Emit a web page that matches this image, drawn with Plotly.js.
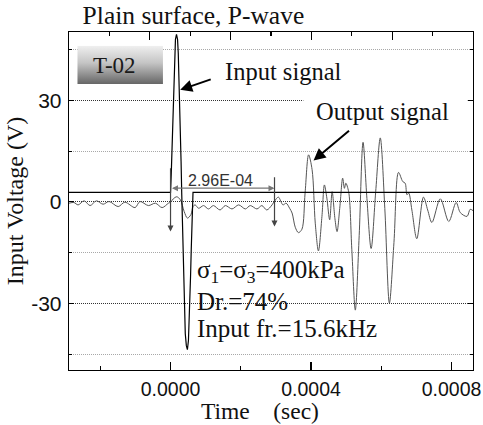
<!DOCTYPE html>
<html>
<head>
<meta charset="utf-8">
<script src="https://cdn.plot.ly/plotly-3.0.1.min.js"></script>
<style>html,body{margin:0;padding:0;background:#fff;}#chart{width:483px;height:425px;}</style>
</head>
<body>
<div id="chart"></div>
<script>
// ---- data (time in seconds, voltage in volts) ----
var inputTime = [-0.000289, 0, 0.000002, 0.000004, 0.000006, 0.000008, 0.000010, 0.000012, 0.000014, 0.000017,
                 0.000020, 0.000022, 0.000024, 0.000026, 0.000028, 0.000030, 0.000032, 0.000034, 0.000036, 0.000038,
                 0.000040, 0.000042, 0.000045, 0.000048, 0.000051, 0.000053, 0.000055, 0.000057, 0.000059, 0.000061,
                 0.000064, 0.000861];
var inputVolt = [2.8, 2.8, 8, 15, 24, 32, 39.5, 45, 48, 49.5,
                 48, 44, 37.5, 30, 21, 12, 2, -8, -18, -27,
                 -34, -39, -42.5, -43.7, -41, -36, -29.5, -22, -14, -6,
                 2.8, 2.8];

var outputTimeUs = [-289, -275, -263, -246, -229, -211, -192, -175, -149, -130, -101, -87, -63, -43, -24, -6,
                    0, 8, 18, 28, 39, 48, 58, 64, 70, 80, 94, 108, 122, 141, 156, 175, 194, 213, 227, 246, 260, 274, 289,
                    296, 307, 320, 329, 339, 346, 355, 364, 374, 383, 393, 403, 412, 421, 431, 438, 445, 453, 460, 468, 474,
                    482, 490, 495, 499, 507, 516, 526, 537, 548, 559, 571, 584, 597, 610, 623, 636, 649, 661, 668, 673, 678,
                    687, 701, 720, 732, 744, 768, 792, 813, 825, 844, 853, 861];
var outputVolt = [-0.4, -0.2, -0.9, 0.3, -1.1, 0.3, -0.7, 0.1, -1.4, -0.1, -1.7, 0.1, -1.1, -0.4, -1.7, -0.4,
                  -0.1, 0.9, 1.5, 0.6, -2.9, -4.8, -3.8, -1.4, -0.9, -1.9, -1.1, -2.1, -1.1, -2.4, -1.1, -2.1, -0.9, -2.1, -1.1, -2.1, -1.1, -2.4, -0.9,
                  0.2, 1.4, -0.9, -0.4, -1.9, -3.3, -7.5, -9.1, -8.1, 2.6, 13.9, 9.5, -6.3, -14.5, -4.3, 5.0, 1.1, -5.3, 3.0, -5.0, -8.8,
                  -1.5, 7.0, 4.0, 5.5, 3.0, -14, -32.0, -10, 17.6, 1, -13.8, 3, 18.9, -2, -29.9, -12, 8.7, 6.0, 5.5, 2.1, 2.6,
                  -2.4, -10.9, 1.4, -2.4, -6.1, 0.9, -5.8, -0.2, -3.2, -4.3, -2.2, -2.6];
var outputTime = outputTimeUs.map(function (u) { return u * 1e-6; });

var delay = 2.96e-4;              // measured travel time
var delayLabel = "2.96E-04";
var xTickVals = [0, 0.0004, 0.0008];
var xTickText = ["0.0000", "0.0004", "0.0008"];
var yTickVals = [-30, 0, 30];
var yTickText = ["-30", "0", "30"];

var serif = "Liberation Serif, Times New Roman, serif";
var sans = "Liberation Sans, Arial, sans-serif";

var traces = [
  {x: outputTime, y: outputVolt, type: "scatter", mode: "lines", name: "Output signal",
   line: {color: "#555555", width: 1, shape: "spline", smoothing: 0.9}, hoverinfo: "skip"},
  {x: inputTime, y: inputVolt, type: "scatter", mode: "lines", name: "Input signal",
   line: {color: "#000000", width: 1.2, shape: "linear"}, hoverinfo: "skip"},
  {x: [-1, 4], y: [null, null], xaxis: "x2", yaxis: "y", type: "scatter", mode: "lines", showlegend: false, hoverinfo: "skip"}
];

var gradSvg = "<svg xmlns='http://www.w3.org/2000/svg' width='86' height='38'><defs><linearGradient id='g' x1='0' y1='0' x2='0' y2='1'>" +
  "<stop offset='0' stop-color='#f0f0f0'/><stop offset='0.45' stop-color='#c4c4c4'/><stop offset='1' stop-color='#666666'/>" +
  "</linearGradient></defs><rect width='86' height='38' fill='url(#g)'/></svg>";

var layout = {
  width: 483, height: 425,
  margin: {l: 69, r: 10, t: 32, b: 55},
  paper_bgcolor: "#fff", plot_bgcolor: "#fff",
  showlegend: false,
  title: {text: "Plain surface, P-wave", font: {family: serif, size: 25.5, color: "#111"},
          xref: "paper", x: 0.308, xanchor: "center", yref: "container", y: 0.965, yanchor: "middle"},
  xaxis: {range: [-0.000289, 0.000861], tickvals: xTickVals, ticktext: xTickText,
          ticks: "inside", ticklen: 8, tickwidth: 1.2, tickcolor: "#000",
          minor: {dtick: 0.0002, tick0: 0, ticks: "inside", ticklen: 4, tickwidth: 1.2, tickcolor: "#000", showgrid: false},
          showline: true, linecolor: "#000", linewidth: 1.3, mirror: false, showgrid: false, zeroline: false,
          tickfont: {family: sans, size: 19.5, color: "#111"}, ticklabelstandoff: 1},
  xaxis2: {overlaying: "x", side: "top", anchor: "y", range: [-1, 4], dtick: 1, tick0: 0,
           ticks: "inside", ticklen: 8, tickwidth: 1.2, tickcolor: "#000",
           minor: {dtick: 0.5, tick0: 0, ticks: "inside", ticklen: 4, tickwidth: 1.2, tickcolor: "#000", showgrid: false},
           showline: true, linecolor: "#000", linewidth: 1.3, showgrid: false, zeroline: false, showticklabels: false},
  yaxis: {range: [-49.7, 50.2], tickvals: yTickVals, ticktext: yTickText,
          ticks: "inside", ticklen: 5, tickwidth: 1.2, tickcolor: "#000",
          minor: {dtick: 15, tick0: 0, ticks: "inside", ticklen: 3, tickwidth: 1.2, tickcolor: "#000",
                  showgrid: true, gridcolor: "#a8a8a8", gridwidth: 1, griddash: "1px,1px"},
          showgrid: true, gridcolor: "#333", gridwidth: 1, griddash: "1px,1px",
          showline: true, linecolor: "#000", linewidth: 1.3, mirror: "ticks", zeroline: false,
          tickfont: {family: sans, size: 21, color: "#111"}, ticklabelstandoff: 2,
          title: {text: "Input Voltage (V)", font: {family: serif, size: 24, color: "#111"}, standoff: 0}},
  images: [{source: "data:image/svg+xml;utf8," + encodeURIComponent(gradSvg), xref: "paper", yref: "paper",
            x: 0.0205, y: 0.9594, sizex: 0.2121, sizey: 0.1134, xanchor: "left", yanchor: "top",
            sizing: "stretch", layer: "above"}],
  shapes: [
    {type: "line", xref: "x", yref: "y", x0: 0.000378, x1: 0.000846, y0: 30, y1: 30,
     line: {color: "#fff", width: 3}, layer: "above"}
  ],
  annotations: [
    {text: "Time\u00a0\u00a0\u00a0\u00a0(sec)", xref: "paper", yref: "paper", x: 0.4735, y: -0.1199, showarrow: false,
     font: {family: serif, size: 23.5, color: "#111"}, xanchor: "center", yanchor: "middle"},
    {text: "T-02", xref: "paper", yref: "paper", x: 0.1123, y: 0.9006, showarrow: false,
     font: {family: serif, size: 23, color: "#1a1a1a"}, xanchor: "center", yanchor: "middle"},
    {text: "Input signal", xref: "paper", yref: "paper", x: 0.5312, y: 0.8833, showarrow: false,
     font: {family: serif, size: 24.5, color: "#111"}, xanchor: "center", yanchor: "middle"},
    {text: "", xref: "x", yref: "y", x: 2.76e-5, y: 33.1, ax: 32, ay: -11, showarrow: true,
     arrowhead: 2, arrowsize: 1.2, arrowwidth: 2, arrowcolor: "#000", standoff: 0},
    {text: "Output signal", xref: "paper", yref: "paper", x: 0.7767, y: 0.7651, showarrow: false,
     font: {family: serif, size: 24.5, color: "#111"}, xanchor: "center", yanchor: "middle"},
    {text: "", xref: "x", yref: "y", x: 4.07e-4, y: 12.2, ax: 37, ay: -31, showarrow: true,
     arrowhead: 2, arrowsize: 1.2, arrowwidth: 2, arrowcolor: "#000", standoff: 0},
    {text: "", xref: "x", yref: "y", x: delay, y: 4.05, axref: "x", ayref: "y", ax: 0, ay: 4.05, showarrow: true,
     arrowhead: 2, arrowside: "end+start", arrowsize: 1, arrowwidth: 1.2, arrowcolor: "#777", standoff: 0, startstandoff: 0},
    {text: "", xref: "x", yref: "y", x: 0, y: -8.8, axref: "x", ayref: "y", ax: 0, ay: 10.4, showarrow: true,
     arrowhead: 2, arrowsize: 1, arrowwidth: 1.2, arrowcolor: "#444", standoff: 0},
    {text: "", xref: "x", yref: "y", x: delay, y: -7.3, axref: "x", ayref: "y", ax: delay, ay: 7.7, showarrow: true,
     arrowhead: 2, arrowsize: 1, arrowwidth: 1.2, arrowcolor: "#444", standoff: 0},
    {text: delayLabel, xref: "x", yref: "y", x: 1.41e-4, y: 6.2, showarrow: false,
     font: {family: sans, size: 16, color: "#333"}, xanchor: "center", yanchor: "middle"},
    {text: "\u03c3<sub>1</sub>=\u03c3<sub>3</sub>=400kPa", xref: "paper", yref: "paper", x: 0.3126, y: 0.2911,
     showarrow: false, font: {family: serif, size: 25, color: "#111"}, xanchor: "left", yanchor: "middle"},
    {text: "Dr.=74%", xref: "paper", yref: "paper", x: 0.3126, y: 0.2030,
     showarrow: false, font: {family: serif, size: 25, color: "#111"}, xanchor: "left", yanchor: "middle"},
    {text: "Input fr.=15.6kHz", xref: "paper", yref: "paper", x: 0.3126, y: 0.1235,
     showarrow: false, font: {family: serif, size: 25, color: "#111"}, xanchor: "left", yanchor: "middle"}
  ]
};

Plotly.newPlot("chart", traces, layout, {staticPlot: true, displayModeBar: false});
</script>
</body>
</html>
